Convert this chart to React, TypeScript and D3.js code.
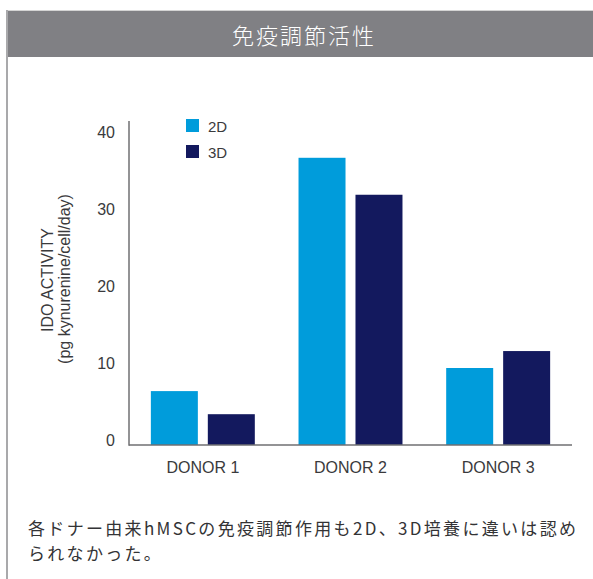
import React from "react";
import * as d3 from "d3";

const donors = ["DONOR 1", "DONOR 2", "DONOR 3"];
const seriesNames = ["2D", "3D"];
const values2D = [7.0, 37.3, 10.0];
const values3D = [4.0, 32.5, 12.2];
const yTicks = [0, 10, 20, 30, 40];
const colors = ["#009cdb", "#13195e"];
const title = "免疫調節活性";
const yLabel1 = "IDO ACTIVITY";
const yLabel2 = "(pg kynurenine/cell/day)";
const note1 = "各ドナー由来hMSCの免疫調節作用も2D、3D培養に違いは認め";
const note2 = "られなかった。";

const W = 593;
const H = 579;
const plotLeft = 129;
const plotRight = 572;
const plotTop = 121;
const baseY = 445;

export default function App() {
  const series = [values2D, values3D];
  const x0 = d3
    .scaleBand<string>()
    .domain(donors)
    .range([plotLeft, plotRight])
    .paddingInner(0.296)
    .paddingOuter(0.148);
  const x1 = d3
    .scaleBand<string>()
    .domain(seriesNames)
    .range([0, x0.bandwidth()])
    .paddingInner(0.175);
  const y = d3.scaleLinear().domain([0, 40]).range([baseY, baseY - 308]);

  const textColor = "#3a3a3c";
  const latin = "'Liberation Sans', Arial, Helvetica, sans-serif";
  const cjk = "'Noto Sans CJK JP', 'Liberation Sans', sans-serif";

  return (
    <svg
      width={W}
      height={H}
      style={{ position: "absolute", left: 0, top: 0, display: "block" }}
    >
      <rect x={0} y={0} width={W} height={H} fill="#ffffff" />
      {/* header */}
      <rect x={6} y={10} width={W - 6} height={1} fill="#d4d4d4" />
      <rect x={6} y={11} width={W - 6} height={46} fill="#808084" />
      <rect x={6} y={10} width={2} height={H - 10} fill="#a9a9ab" />
      <text
        x={303}
        y={34}
        fill="#ffffff"
        fontFamily={cjk}
        fontSize={22}
        fontWeight={300}
        textAnchor="middle"
        dominantBaseline="central"
        textLength={142}
        lengthAdjust="spacing"
      >
        {title}
      </text>

      {/* bars */}
      {donors.map((d, i) => (
        <g key={d} transform={`translate(${x0(d)},0)`}>
          {seriesNames.map((s, j) => {
            const v = series[j][i];
            return (
              <rect
                key={s}
                x={x1(s)}
                y={y(v)}
                width={x1.bandwidth()}
                height={baseY - y(v)}
                fill={colors[j]}
              />
            );
          })}
        </g>
      ))}

      {/* axes */}
      <line x1={plotLeft} x2={plotLeft} y1={plotTop} y2={baseY + 0.75} stroke="#6f6f72" strokeWidth={1.5} />
      <line x1={plotLeft} x2={plotRight} y1={baseY} y2={baseY} stroke="#6f6f72" strokeWidth={1.5} />

      {yTicks.map((t) => (
        <text
          key={t}
          x={115}
          y={y(t) - 5}
          fill={textColor}
          fontFamily={latin}
          fontSize={16}
          textAnchor="end"
          dominantBaseline="central"
        >
          {t}
        </text>
      ))}

      {donors.map((d) => (
        <text
          key={d}
          x={(x0(d) as number) + x0.bandwidth() / 2}
          y={467}
          fill={textColor}
          fontFamily={latin}
          fontSize={16}
          textAnchor="middle"
          dominantBaseline="central"
        >
          {d}
        </text>
      ))}

      {/* y label */}
      <g transform="translate(47,280) rotate(-90)">
        <text
          x={0}
          y={0}
          fill={textColor}
          fontFamily={latin}
          fontSize={16}
          textAnchor="middle"
          dominantBaseline="central"
        >
          {yLabel1}
        </text>
      </g>
      <g transform="translate(64,279) rotate(-90)">
        <text
          x={0}
          y={0}
          fill={textColor}
          fontFamily={latin}
          fontSize={16}
          textAnchor="middle"
          dominantBaseline="central"
        >
          {yLabel2}
        </text>
      </g>

      {/* legend */}
      {seriesNames.map((s, j) => (
        <g key={s} transform={`translate(186,${119 + j * 26})`}>
          <rect x={0} y={0} width={13} height={13} fill={colors[j]} />
          <text
            x={22}
            y={7}
            fill={textColor}
            fontFamily={latin}
            fontSize={15}
            dominantBaseline="central"
          >
            {s}
          </text>
        </g>
      ))}

      {/* note */}
      <text
        x={28}
        y={527}
        fill="#333335"
        fontFamily={cjk}
        fontSize={17}
        dominantBaseline="central"
        textLength={548}
        lengthAdjust="spacing"
      >
        {note1}
      </text>
      <text
        x={28}
        y={552}
        fill="#333335"
        fontFamily={cjk}
        fontSize={17}
        letterSpacing={2.3}
        dominantBaseline="central"
      >
        {note2}
      </text>
    </svg>
  );
}
